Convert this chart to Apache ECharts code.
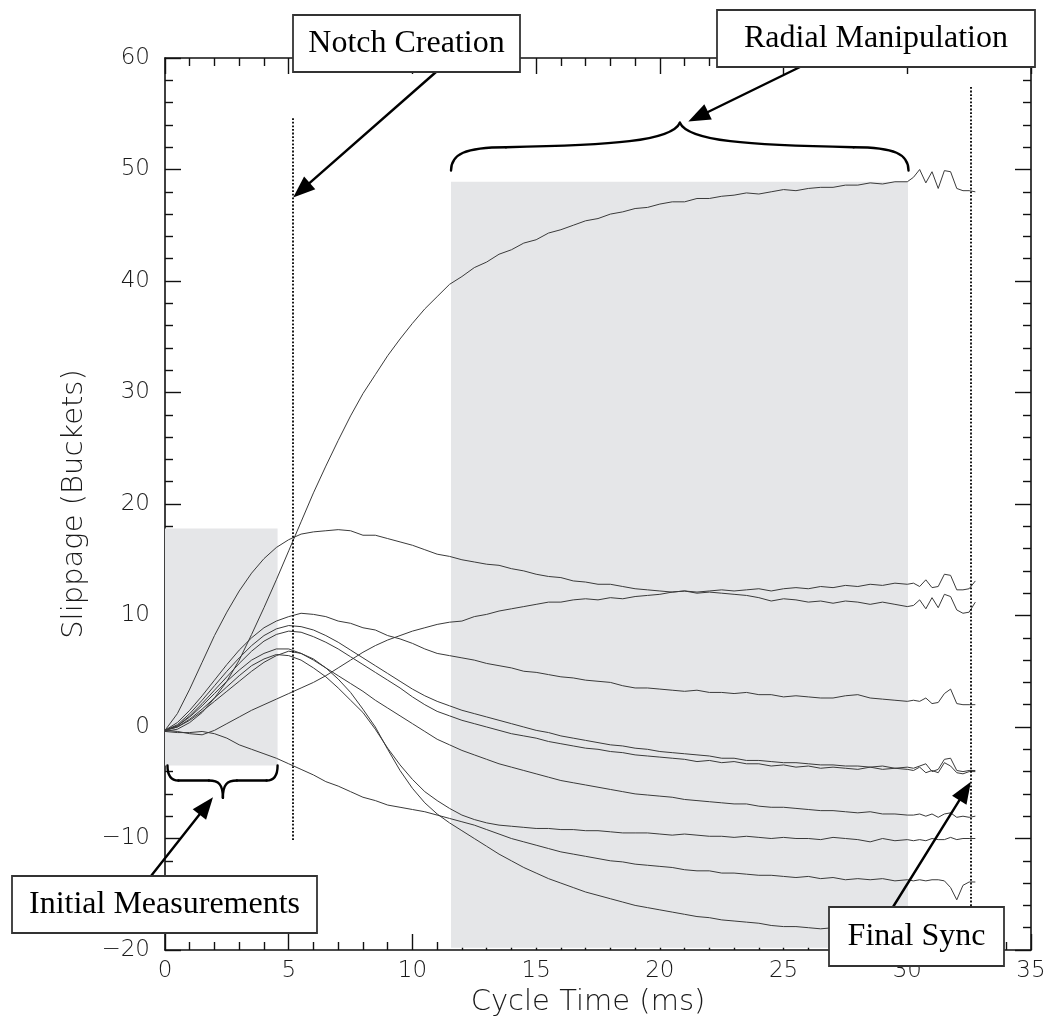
<!DOCTYPE html>
<html>
<head>
<meta charset="utf-8">
<title>Slippage vs Cycle Time</title>
<script src="https://cdn.jsdelivr.net/npm/echarts@6/dist/echarts.min.js"></script>
<style>
html, body { margin: 0; padding: 0; background: #ffffff; }
#chart { width: 1048px; height: 1033px; }
</style>
</head>
<body>
<div id="chart"></div>
<script>
// Sample times (ms): half-millisecond steps, finer over the final sync window
const cycleTime = [
  0, 0.5, 1, 1.5, 2, 2.5, 3, 3.5, 4, 4.5,
  5, 5.5, 6, 6.5, 7, 7.5, 8, 8.5, 9, 9.5,
  10, 10.5, 11, 11.5, 12, 12.5, 13, 13.5, 14, 14.5,
  15, 15.5, 16, 16.5, 17, 17.5, 18, 18.5, 19, 19.5,
  20, 20.5, 21, 21.5, 22, 22.5, 23, 23.5, 24, 24.5,
  25, 25.5, 26, 26.5, 27, 27.5, 28, 28.5, 29, 29.5,
  30,
  30.25, 30.5, 30.75, 31, 31.25, 31.5, 31.75, 32, 32.25, 32.5, 32.75
];

// Slippage traces (buckets), one value per sample time
const traceA = [
  -0.4, -0.2, 0.4, 1.3, 2.6, 4.1, 6.0, 8.3, 10.7, 13.2,
  15.8, 18.4, 21.0, 23.4, 25.7, 27.9, 29.9, 31.6, 33.3, 34.8,
  36.2, 37.5, 38.6, 39.7, 40.4, 41.2, 41.7, 42.4, 42.8, 43.4,
  43.7, 44.3, 44.6, 45.0, 45.4, 45.6, 46.0, 46.2, 46.5, 46.6,
  46.9, 47.1, 47.1, 47.4, 47.4, 47.6, 47.7, 47.9, 47.8, 48.0,
  48.2, 48.1, 48.3, 48.4, 48.4, 48.6, 48.6, 48.8, 48.7, 48.9,
  48.9,
  49.3, 50.0, 48.8, 49.8, 48.3, 49.9, 49.8, 48.3, 48.1, 48.1, 48.0
];
const traceB = [
  -0.3, 1.2, 3.4, 5.8, 8.2, 10.3, 12.2, 13.8, 15.1, 16.1,
  16.8, 17.3, 17.5, 17.6, 17.7, 17.6, 17.2, 17.2, 16.9, 16.6,
  16.3, 15.9, 15.5, 15.3, 15.0, 14.8, 14.6, 14.5, 14.2, 14.0,
  13.7, 13.5, 13.4, 13.1, 13.0, 12.8, 12.8, 12.6, 12.4, 12.3,
  12.2, 12.1, 12.2, 12.0, 12.1, 12.0, 11.9, 11.8, 11.6, 11.3,
  11.5, 11.4, 11.2, 11.3, 11.1, 11.3, 11.2, 11.0, 11.2, 11.0,
  10.8,
  10.9, 11.4, 10.6, 11.6, 10.7, 11.9, 11.7, 10.5, 10.2, 10.3, 11.2
];
const traceC = [
  -0.3, -0.4, -0.6, -0.7, -0.3, 0.3, 0.9, 1.5, 2.0, 2.5,
  3.0, 3.5, 4.0, 4.6, 5.3, 6.0, 6.7, 7.3, 7.8, 8.2,
  8.6, 8.9, 9.2, 9.4, 9.5, 9.9, 10.1, 10.4, 10.6, 10.8,
  11.0, 11.2, 11.2, 11.4, 11.5, 11.4, 11.6, 11.5, 11.7, 11.8,
  11.9, 12.1, 12.2, 12.1, 12.2, 12.3, 12.2, 12.3, 12.4, 12.2,
  12.4, 12.5, 12.4, 12.6, 12.5, 12.7, 12.6, 12.8, 12.7, 12.9,
  12.8,
  12.9, 12.6, 13.2, 12.5, 12.6, 13.7, 13.6, 12.3, 12.3, 12.4, 13.1
];
const traceD = [
  -0.3, 0.4, 1.5, 2.8, 4.2, 5.6, 6.9, 8.0, 8.9, 9.5,
  9.9, 10.2, 10.1, 9.9, 9.5, 9.3, 8.9, 8.7, 8.2, 7.9,
  7.5, 7.0, 6.6, 6.4, 6.2, 6.0, 5.7, 5.5, 5.3, 5.0,
  4.9, 4.7, 4.5, 4.4, 4.2, 4.1, 4.0, 3.7, 3.5, 3.5,
  3.4, 3.3, 3.2, 3.3, 3.1, 3.1, 3.0, 3.1, 2.9, 2.9,
  2.7, 2.8, 2.7, 2.6, 2.6, 2.8, 2.9, 2.6, 2.5, 2.4,
  2.3,
  2.4, 2.3, 2.6, 2.1, 2.2, 3.0, 3.4, 2.1, 2.0, 2.0, 2.0
];
const traceE = [
  -0.3, 0.2, 1.2, 2.4, 3.7, 5.0, 6.2, 7.3, 8.2, 8.8,
  9.1, 9.0, 8.7, 8.2, 7.6, 6.9, 6.2, 5.5, 4.8, 4.1,
  3.4, 2.8, 2.3, 1.9, 1.5, 1.2, 0.9, 0.6, 0.3, 0.0,
  -0.3, -0.5, -0.8, -1.0, -1.2, -1.4, -1.6, -1.7, -1.9, -2.0,
  -2.2, -2.3, -2.4, -2.5, -2.6, -2.8, -2.8, -3.0, -3.0, -3.1,
  -3.2, -3.2, -3.3, -3.4, -3.4, -3.5, -3.5, -3.6, -3.5, -3.7,
  -3.6,
  -3.7, -3.5, -3.3, -4.0, -3.8, -2.9, -2.8, -3.9, -4.0, -3.9, -3.9
];
const traceF = [
  -0.3, 0.1, 1.0, 2.1, 3.3, 4.5, 5.7, 6.8, 7.7, 8.3,
  8.6, 8.5, 8.1, 7.6, 7.0, 6.3, 5.6, 4.9, 4.2, 3.5,
  2.7, 2.0, 1.4, 1.0, 0.6, 0.3, 0.0, -0.3, -0.6, -0.8,
  -1.0, -1.3, -1.5, -1.7, -1.9, -2.0, -2.2, -2.3, -2.5, -2.6,
  -2.7, -2.8, -2.9, -3.1, -3.0, -3.2, -3.1, -3.3, -3.3, -3.5,
  -3.4, -3.6, -3.5, -3.7, -3.6, -3.7, -3.8, -3.6, -3.8, -3.7,
  -3.8,
  -3.9, -3.6, -4.1, -3.9, -4.1, -3.2, -3.5, -4.1, -4.2, -4.0, -4.0
];
const traceG = [
  -0.3, 0.1, 0.9, 1.9, 3.0, 4.1, 5.1, 6.0, 6.6, 7.0,
  7.0, 6.6, 6.0, 5.3, 4.6, 3.9, 3.2, 2.4, 1.7, 1.0,
  0.3, -0.4, -1.1, -1.6, -2.1, -2.5, -2.9, -3.3, -3.6, -3.9,
  -4.2, -4.5, -4.8, -5.0, -5.2, -5.4, -5.6, -5.8, -6.0, -6.1,
  -6.2, -6.3, -6.5, -6.6, -6.7, -6.8, -6.9, -6.9, -7.1, -7.2,
  -7.2, -7.3, -7.4, -7.5, -7.5, -7.6, -7.7, -7.6, -7.8, -7.8,
  -7.9,
  -7.9, -7.8, -8.0, -7.8, -8.1, -7.8, -7.7, -8.1, -8.0, -8.1, -8.0
];
const traceH = [
  -0.3, 0.0, 0.7, 1.6, 2.6, 3.6, 4.6, 5.5, 6.1, 6.5,
  6.4, 6.0, 5.3, 4.5, 3.5, 2.4, 1.3, -0.2, -1.9, -3.4,
  -4.7, -5.8, -6.6, -7.3, -7.9, -8.3, -8.6, -8.8, -8.9, -9.0,
  -9.1, -9.1, -9.2, -9.2, -9.3, -9.3, -9.4, -9.5, -9.5, -9.5,
  -9.6, -9.7, -9.6, -9.7, -9.8, -9.8, -9.9, -9.8, -9.9, -10.0,
  -9.9, -10.0, -10.0, -10.1, -9.9, -10.0, -10.1, -10.3, -10.0, -10.2,
  -10.1,
  -10.2, -10.1, -10.2, -10.0, -10.1, -10.1, -9.9, -10.1, -10.0, -10.0, -10.0
];
const traceI = [
  -0.4, -0.5, -0.5, -0.4, -0.6, -1.0, -1.6, -2.0, -2.4, -2.8,
  -3.3, -3.8, -4.3, -4.9, -5.3, -5.8, -6.3, -6.6, -7.0, -7.2,
  -7.4, -7.6, -7.9, -8.2, -8.5, -8.8, -9.2, -9.6, -10.0, -10.3,
  -10.6, -10.9, -11.2, -11.4, -11.6, -11.8, -12.0, -12.1, -12.3, -12.4,
  -12.5, -12.6, -12.8, -12.9, -12.9, -13.1, -13.1, -13.2, -13.3, -13.3,
  -13.4, -13.5, -13.4, -13.6, -13.5, -13.7, -13.6, -13.7, -13.6, -13.8,
  -13.7,
  -13.8, -13.7, -13.8, -13.7, -13.7, -13.8, -14.4, -15.5, -14.2, -13.9, -13.9
];
const traceJ = [
  -0.3, 0.0, 0.6, 1.4, 2.3, 3.2, 4.1, 5.0, 5.8, 6.4,
  6.8, 6.6, 6.1, 5.3, 4.3, 3.1, 1.6, 0.0, -2.0, -3.9,
  -5.5, -6.8, -7.8, -8.6, -9.3, -10.0, -10.7, -11.4, -12.0, -12.6,
  -13.1, -13.6, -14.0, -14.4, -14.8, -15.1, -15.4, -15.7, -16.0, -16.2,
  -16.4, -16.6, -16.8, -17.0, -17.1, -17.3, -17.4, -17.5, -17.6, -17.8,
  -17.9, -17.9, -18.0, -18.1, -18.0, -18.1, -18.2, -18.1, -18.2, -18.2,
  -18.3,
  -18.2, -18.3, -18.2, -18.3, -18.2, -18.3, -18.4, -18.3, -18.2, -18.2, -18.2
];
const traces = [traceA, traceB, traceC, traceD, traceE, traceF, traceG, traceH, traceI, traceJ];

// Axis ranges: [min, max, major step]
const xRange = [0, 35, 5];
const yRange = [-20, 60, 10];

// Shaded phases: [xStart, yTop, xEnd, yBottom]
const phaseInitial = [0, 17.8, 4.55, -3.45];
const phaseRadial = [11.56, 48.9, 30.03, -19.8];

// Dotted event markers: [x, yTop, yBottom]
const markerNotch = [5.18, 54.6, -10.2];
const markerSync = [32.57, 57.4, -19.0];

// Curly braces over the phases (data units)
const braceInitial = { x0: 0.1, x1: 4.55, yEnd: -3.45, yFlat: -4.8, tipX: 2.34, tipY: -6.35 };
const braceRadial = { x0: 11.56, x1: 30.05, yEnd: 49.9, yFlat: 52.0, tipX: 20.81, tipY: 54.2 };

// Callouts: box [left, top, width, height] in page pixels, arrow tail on the box edge, arrow tip in data units
const callouts = [
  { text: 'Notch Creation', box: [293, 15, 227, 57], tail: [436, 72], tip: [5.18, 47.5] },
  { text: 'Radial Manipulation', box: [717, 10, 318, 57], tail: [800, 67], tip: [21.15, 54.3] },
  { text: 'Initial Measurements', box: [12, 876, 305, 57], tail: [151, 876], tip: [1.94, -6.3] },
  { text: 'Final Sync', box: [829, 907, 175, 59], tail: [893, 907], tip: [32.57, -4.9] }
];

const AXIS_FONT = '"DejaVu Sans", Lato, sans-serif';
const NOTE_FONT = '"Liberation Serif", "Times New Roman", serif';
const INK = '#111111';

function fmtTick(v) {
  return v < 0 ? '\u2212' + Math.abs(v) : String(v);
}

const frameLine = { show: true, onZero: false, lineStyle: { color: INK, width: 1.6 } };
const majorTick = { show: true, inside: true, length: 16, lineStyle: { color: INK, width: 1.4 } };
const minorTick = { show: true, splitNumber: 5, length: 8, lineStyle: { color: INK, width: 1.4 } };
const tickText = { fontFamily: AXIS_FONT, fontSize: 23, fontWeight: 200, color: '#1a1a1a', formatter: fmtTick };
const titleText = { fontFamily: AXIS_FONT, fontSize: 29, fontWeight: 200, color: '#1a1a1a' };

function frameAxis(range, position, labelOpts, nameOpts) {
  return Object.assign({
    type: 'value',
    position: position,
    min: range[0],
    max: range[1],
    interval: range[2],
    axisLine: frameLine,
    axisTick: majorTick,
    minorTick: minorTick,
    splitLine: { show: false },
    minorSplitLine: { show: false },
    axisLabel: labelOpts || { show: false }
  }, nameOpts || {});
}

const traceSeries = traces.map(function (vals, k) {
  return {
    type: 'line',
    name: 'trace' + k,
    z: 2,
    silent: true,
    showSymbol: false,
    symbol: 'none',
    smooth: false,
    lineStyle: { color: '#3a3a3a', width: 1 },
    data: cycleTime.map(function (t, i) { return [t, vals[i]]; })
  };
});

const phaseSeries = {
  type: 'line',
  name: 'phases',
  z: 1,
  silent: true,
  data: [],
  markArea: {
    silent: true,
    itemStyle: { color: '#e5e6e8' },
    label: { show: false },
    emphasis: { disabled: true },
    data: [
      [{ coord: [phaseInitial[0], phaseInitial[1]] }, { coord: [phaseInitial[2], phaseInitial[3]] }],
      [{ coord: [phaseRadial[0], phaseRadial[1]] }, { coord: [phaseRadial[2], phaseRadial[3]] }]
    ]
  },
  markLine: {
    silent: true,
    symbol: ['none', 'none'],
    label: { show: false },
    emphasis: { disabled: true },
    lineStyle: { color: '#000000', width: 1.8, type: [1.8, 1.8] },
    data: [
      [{ coord: [markerNotch[0], markerNotch[1]] }, { coord: [markerNotch[0], markerNotch[2]] }],
      [{ coord: [markerSync[0], markerSync[1]] }, { coord: [markerSync[0], markerSync[2]] }]
    ]
  }
};

const option = {
  animation: false,
  backgroundColor: '#ffffff',
  grid: { left: 165, right: 17, top: 58, bottom: 83, containLabel: false, outerBoundsMode: 'none' },
  xAxis: [
    frameAxis(xRange, 'bottom', Object.assign({ show: true, margin: 10 }, tickText), {
      name: 'Cycle Time (ms)',
      nameLocation: 'middle',
      nameGap: 36,
      nameTextStyle: Object.assign({ padding: [0, 20, 0, 0] }, titleText)
    }),
    frameAxis(xRange, 'top')
  ],
  yAxis: [
    frameAxis(yRange, 'left', Object.assign({ show: true, margin: 15 }, tickText), {
      name: 'Slippage (Buckets)',
      nameLocation: 'middle',
      nameGap: 76,
      nameTextStyle: titleText
    }),
    frameAxis(yRange, 'right')
  ],
  series: [phaseSeries].concat(traceSeries)
};

const chart = echarts.init(document.getElementById('chart'), null, { renderer: 'canvas' });
chart.setOption(option);

function toPx(p) {
  return chart.convertToPixel({ xAxisIndex: 0, yAxisIndex: 0 }, p);
}

const stroke = { stroke: '#000000', lineWidth: 2.4, fill: null, lineCap: 'round' };

function curve(x1, y1, cx1, cy1, cx2, cy2, x2, y2) {
  const shape = { x1: x1, y1: y1, x2: x2, y2: y2, cpx1: cx1, cpy1: cy1 };
  if (cx2 !== null) { shape.cpx2 = cx2; shape.cpy2 = cy2; }
  return { type: 'bezierCurve', z: 50, silent: true, shape: shape, style: stroke };
}

function seg(x1, y1, x2, y2, w) {
  return { type: 'line', z: 50, silent: true, shape: { x1: x1, y1: y1, x2: x2, y2: y2 },
    style: { stroke: '#000000', lineWidth: w || 2.4, lineCap: 'round' } };
}

// Brace whose tip points up (toward larger values)
function braceTipUp(b) {
  const L = toPx([b.x0, b.yEnd]), R = toPx([b.x1, b.yEnd]), T = toPx([b.tipX, b.tipY]);
  const yF = toPx([b.x0, b.yFlat])[1];
  const hl = T[0] - L[0], hr = R[0] - T[0];
  const aL = L[0] + 0.24 * hl, aR = R[0] - 0.24 * hr;
  return [
    curve(L[0], L[1], L[0], L[1] - 0.7 * (L[1] - yF), L[0] + 0.06 * hl, yF, aL, yF),
    curve(aL, yF, L[0] + 0.7 * hl, yF - 2, T[0] - 0.035 * hl, yF - 6, T[0], T[1]),
    curve(R[0], R[1], R[0], R[1] - 0.7 * (R[1] - yF), R[0] - 0.06 * hr, yF, aR, yF),
    curve(aR, yF, R[0] - 0.7 * hr, yF - 2, T[0] + 0.035 * hr, yF - 6, T[0], T[1])
  ];
}

// Brace whose tip points down (toward smaller values)
function braceTipDown(b) {
  const L = toPx([b.x0, b.yEnd]), R = toPx([b.x1, b.yEnd]), T = toPx([b.tipX, b.tipY]);
  const yF = toPx([b.x0, b.yFlat])[1];
  const r = 11, c = 14;
  return [
    curve(L[0], L[1], L[0], yF, null, null, L[0] + r, yF),
    seg(L[0] + r, yF, T[0] - c, yF),
    curve(T[0] - c, yF, T[0] - 4, yF, T[0], yF + 4, T[0], T[1]),
    curve(T[0] + c, yF, T[0] + 4, yF, T[0], yF + 4, T[0], T[1]),
    seg(T[0] + c, yF, R[0] - r, yF),
    curve(R[0], R[1], R[0], yF, null, null, R[0] - r, yF)
  ];
}

function arrow(tail, tip) {
  const dx = tip[0] - tail[0], dy = tip[1] - tail[1];
  const len = Math.hypot(dx, dy);
  const ux = dx / len, uy = dy / len;
  const headLen = 22, half = 8.5;
  const bx = tip[0] - ux * headLen, by = tip[1] - uy * headLen;
  return [
    seg(tail[0], tail[1], bx + ux * 3, by + uy * 3, 2.4),
    { type: 'polygon', z: 60, silent: true,
      shape: { points: [[tip[0], tip[1]], [bx - uy * half, by + ux * half], [bx + uy * half, by - ux * half]] },
      style: { fill: '#000000', stroke: null } }
  ];
}

function calloutBox(c) {
  const b = c.box;
  return [
    { type: 'rect', z: 70, silent: true,
      shape: { x: b[0], y: b[1], width: b[2], height: b[3] },
      style: { fill: '#ffffff', stroke: '#333333', lineWidth: 1.8 } },
    { type: 'text', z: 71, silent: true,
      style: { text: c.text, x: b[0] + b[2] / 2, y: b[1] + b[3] / 2,
        font: '32px ' + NOTE_FONT, fill: '#000000',
        align: 'center', verticalAlign: 'middle', textAlign: 'center', textVerticalAlign: 'middle' } }
  ];
}

let elements = [];
elements = elements.concat(braceTipDown(braceInitial));
elements = elements.concat(braceTipUp(braceRadial));
callouts.forEach(function (c) {
  elements = elements.concat(arrow(c.tail, toPx(c.tip)));
});
callouts.forEach(function (c) {
  elements = elements.concat(calloutBox(c));
});

chart.setOption({ graphic: { elements: elements } });
</script>
</body>
</html>
